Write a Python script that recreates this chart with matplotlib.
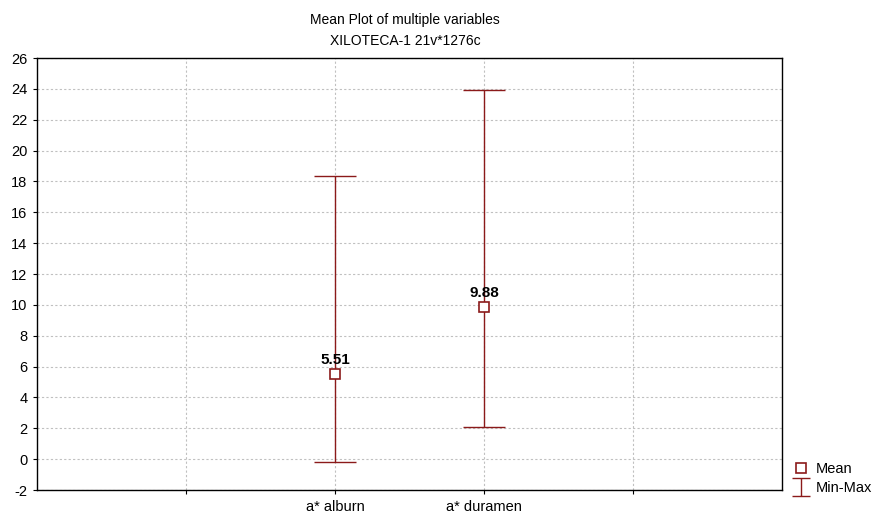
import numpy as np
import matplotlib.pyplot as plt
from matplotlib.lines import Line2D
from matplotlib.path import Path

plt.rcParams['font.family'] = ['Liberation Sans', 'DejaVu Sans']
plt.rcParams['axes.unicode_minus'] = False

variables = ['a* alburn', 'a* duramen']
means = [5.51, 9.88]
mins = [-0.2, 2.1]
maxs = [18.35, 23.9]

red = '#8b1a1a'
xpos = np.array([2, 3])

fig = plt.figure(figsize=(8.84, 5.16), dpi=100)
ax = fig.add_axes([37 / 884, 26 / 516, 745 / 884, 432 / 516])

lo = np.array(means) - np.array(mins)
hi = np.array(maxs) - np.array(means)
ax.errorbar(xpos, means, yerr=[lo, hi], fmt='none', ecolor=red, elinewidth=1.0,
            capsize=15, capthick=1.0, zorder=3)
ax.plot(xpos, means, 's', ms=6.5, mfc='white', mec=red, mew=1.2, zorder=4)
for x, m in zip(xpos, means):
    ax.text(x, m + 0.45, f'{m:.2f}', ha='center', va='bottom', fontsize=11,
            fontweight='bold', color='black', zorder=5)

ax.set_xlim(0, 5)
ax.set_ylim(-2, 26)
ax.set_yticks(np.arange(-2, 27, 2))
ax.set_xticks([1, 2, 3, 4])
ax.set_xticklabels(['', variables[0], variables[1], ''])
ax.tick_params(axis='both', labelsize=10.5, length=3, color='black', pad=4)
ax.grid(True, color='#c0c0c0', linestyle=(0, (2, 2)), linewidth=0.8)
ax.set_axisbelow(True)
for s in ax.spines.values():
    s.set_linewidth(1.0)
    s.set_color('black')

fig.text(0.458, 0.975, 'Mean Plot of multiple variables', ha='center', va='top', fontsize=10)
fig.text(0.458, 0.935, 'XILOTECA-1 21v*1276c', ha='center', va='top', fontsize=10)

# I-beam glyph for the min-max legend entry
ibeam = Path([(-1, 1), (1, 1), (0, 1), (0, -1), (-1, -1), (1, -1)],
             [Path.MOVETO, Path.LINETO, Path.MOVETO, Path.LINETO, Path.MOVETO, Path.LINETO])
handles = [
    Line2D([], [], marker='s', ls='none', ms=6.5, mfc='white', mec=red, mew=1.2),
    Line2D([], [], marker=ibeam, ls='none', ms=13, mfc='none', mec=red, mew=1.0),
]
fig.legend(handles, ['Mean', 'Min-Max'], loc='lower left', bbox_to_anchor=(0.885, 0.02),
           frameon=False, fontsize=10.5, handlelength=1.2, handletextpad=0.4,
           labelspacing=0.35, borderpad=0.2)

fig.savefig('out.png', dpi=100)
